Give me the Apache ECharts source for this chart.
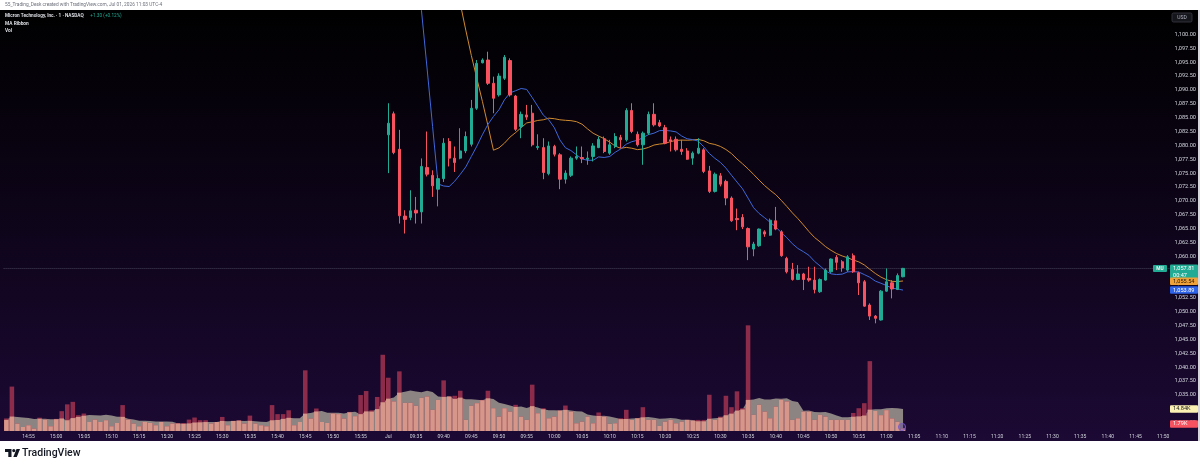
<!DOCTYPE html>
<html>
<head>
<meta charset="utf-8">
<title>MU 1m</title>
<script src="https://cdn.jsdelivr.net/npm/echarts@6/dist/echarts.min.js"></script>
<style>
  html, body { margin: 0; padding: 0; background: #fff; }
  #chart { width: 1200px; height: 467px; }
</style>
</head>
<body>
<div id="chart"></div>
<script>
// previous session 14:51 - 15:59, volume in K (price of that session sits above the scale)
var prevVolume = [8.5, 30, 5, 2.7, 3.9, 1.6, 9, 7.7, 3.2, 8.2,
  13.4, 18, 19.7, 10.7, 11.8, 6.1, 7.7, 6.1, 7.3, 3.2,
  5.4, 17.5, 7.7, 5, 3.2, 6.1, 5.4, 3.9, 6.1, 3.2,
  5, 5.4, 5.4, 7.7, 9.1, 7.3, 7.3, 5, 6.1, 9.5,
  3.9, 6.8, 7.3, 5, 10.4, 5, 3.9, 3.2, 17.5, 11.4,
  11.4, 14, 3.9, 6.1, 41, 8.4, 15.2, 6.1, 5.4, 11.8,
  11.4, 8.4, 12.9, 10, 24.3, 27, 14, 23, 51.5]
var prevSessionClose = 1178   // where the MAs come down from after the gap
var volBefore = 7.4           // avg volume before the first visible bar

// today 09:30 - 11:03
var opens = [1081.9, 1085.7, 1079.3, 1067.25, 1067.0, 1068.3, 1068.0, 1076.0, 1074.6, 1072.1,
  1074.0, 1080.7, 1077.7, 1077.7, 1079.0, 1080.2, 1086.7, 1094.9, 1095.4, 1091.2,
  1089.1, 1092.1, 1095.3, 1088.9, 1083.4, 1085.5, 1085.8, 1079.6, 1079.6, 1074.9,
  1079.8, 1078.3, 1073.9, 1074.6, 1077.7, 1077.8, 1077.5, 1078.0, 1079.6, 1081.2,
  1078.6, 1079.8, 1081.4, 1081.0, 1086.3, 1082.0, 1080.1, 1082.2, 1085.6, 1084.1,
  1083.2, 1081.0, 1081.1, 1079.3, 1079.0, 1077.7, 1078.6, 1079.2, 1075.4, 1071.7,
  1074.5, 1073.5, 1070.5, 1066.8, 1067.0, 1065.0, 1061.3, 1061.9, 1064.4, 1063.8,
  1066.4, 1064.4, 1059.6, 1057.6, 1055.8, 1056.8, 1056.0, 1055.7, 1053.6, 1055.7,
  1057.2, 1059.8, 1059.0, 1057.5, 1060.1, 1057.0, 1055.4, 1051.2, 1049.2, 1048.5,
  1053.7, 1055.2, 1054.0, 1056.3]
var highs = [1087.6, 1086.1, 1082.8, 1068.3, 1071.9, 1070.7, 1077.65, 1082.5, 1075.5, 1074.6,
  1081.3, 1081.3, 1079.8, 1083.1, 1082.5, 1088.2, 1095.4, 1095.7, 1096.9, 1092.4,
  1093.0, 1096.3, 1095.7, 1089.1, 1086.1, 1087.3, 1087.3, 1082.0, 1081.3, 1080.7,
  1080.1, 1078.6, 1075.5, 1078.0, 1079.8, 1079.8, 1078.9, 1080.4, 1081.6, 1081.6,
  1081.0, 1082.2, 1081.9, 1086.7, 1087.6, 1082.5, 1082.5, 1086.1, 1087.6, 1084.6,
  1083.7, 1081.6, 1081.6, 1081.0, 1079.5, 1078.9, 1081.3, 1079.5, 1076.3, 1075.1,
  1075.0, 1073.8, 1070.8, 1068.6, 1067.6, 1065.2, 1062.6, 1065.0, 1064.7, 1066.8,
  1068.9, 1064.7, 1059.9, 1058.8, 1058.4, 1057.0, 1058.1, 1058.1, 1056.0, 1057.8,
  1059.6, 1060.2, 1059.3, 1060.2, 1060.5, 1057.2, 1055.7, 1051.5, 1049.4, 1053.9,
  1057.8, 1055.7, 1056.9, 1057.9]
var lows = [1075.0, 1078.4, 1065.9, 1064.1, 1066.5, 1065.9, 1065.9, 1074.4, 1070.7, 1069.0,
  1073.4, 1076.2, 1075.2, 1077.5, 1078.6, 1079.8, 1086.4, 1094.8, 1090.9, 1085.8,
  1088.8, 1091.8, 1088.8, 1082.6, 1081.3, 1084.6, 1079.8, 1079.2, 1073.9, 1074.6,
  1078.0, 1072.1, 1073.1, 1074.3, 1077.4, 1076.8, 1076.5, 1077.1, 1079.5, 1078.6,
  1078.3, 1079.5, 1079.5, 1080.7, 1082.2, 1079.8, 1076.5, 1081.9, 1083.4, 1083.3,
  1080.2, 1078.9, 1078.9, 1078.3, 1077.4, 1076.5, 1078.4, 1075.0, 1071.4, 1071.5,
  1072.6, 1069.2, 1066.2, 1064.7, 1064.9, 1059.3, 1060.0, 1061.7, 1063.5, 1063.7,
  1064.7, 1059.9, 1056.9, 1055.6, 1055.7, 1053.9, 1055.4, 1053.3, 1053.4, 1055.6,
  1057.0, 1057.5, 1057.2, 1057.2, 1057.0, 1053.0, 1050.9, 1048.5, 1047.9, 1048.4,
  1053.6, 1052.4, 1053.9, 1056.2]
var closes = [1084.0, 1078.7, 1067.3, 1066.65, 1068.2, 1067.8, 1076.2, 1074.8, 1072.7, 1074.0,
  1080.4, 1077.7, 1076.9, 1079.0, 1081.6, 1086.7, 1094.8, 1095.4, 1091.2, 1088.5,
  1092.5, 1095.9, 1089.1, 1082.9, 1085.6, 1085.1, 1080.1, 1079.8, 1075.1, 1079.9,
  1078.4, 1073.9, 1075.0, 1077.7, 1078.0, 1077.6, 1077.7, 1079.9, 1081.1, 1078.9,
  1080.1, 1081.6, 1081.0, 1086.3, 1082.5, 1080.1, 1082.2, 1085.6, 1083.7, 1083.5,
  1080.4, 1080.8, 1079.2, 1078.9, 1077.5, 1078.6, 1079.5, 1075.3, 1071.7, 1074.8,
  1073.0, 1070.5, 1066.4, 1066.6, 1065.3, 1061.7, 1062.2, 1064.9, 1064.0, 1066.5,
  1064.9, 1060.1, 1057.2, 1055.8, 1056.8, 1055.8, 1055.7, 1054.0, 1055.8, 1057.5,
  1059.5, 1058.9, 1057.9, 1059.9, 1057.2, 1055.2, 1051.0, 1049.2, 1048.8, 1053.7,
  1055.4, 1054.1, 1056.51, 1057.81]
var volumes = [36, 20, 40.3, 19, 19, 17, 22.4, 23.3, 14.3, 21,
  34.2, 23.3, 23.8, 27.2, 7.5, 17, 18.8, 21, 27.2, 15.4,
  9.7, 15.4, 13.1, 17.7, 9.7, 7.5, 31.3, 12, 15.4, 8.6,
  9.7, 13.8, 17.2, 13.1, 5.2, 6.3, 9.7, 5.2, 12.5, 9.7,
  4.8, 5.2, 8.6, 14.3, 7.5, 8.6, 16.1, 7.5, 7.5, 3.4,
  6.3, 7.5, 5.2, 6.3, 7.5, 7, 7.5, 7.5, 24.5, 7.5,
  9.7, 23.8, 16.1, 26.8, 15.4, 71.4, 10.9, 17.7, 13.1, 8.6,
  16.5, 21.1, 20, 7.5, 8.6, 13.1, 13.1, 7.5, 10.9, 9.7,
  7.5, 7.5, 7.5, 7.5, 12.2, 15.4, 18.8, 47.2, 13.5, 10.7,
  14.1, 8.5, 6.2, 1.79]

var UP = '#22ab94'
var DOWN = '#f7525f'

function pad(n) { return (n < 10 ? '0' : '') + n }
function minutes(from, to) {
  var out = []
  for (var m = from; m <= to; m++) out.push(pad(Math.floor(m / 60)) + ':' + pad(m % 60))
  return out
}
var prevTimes = minutes(14 * 60 + 51, 15 * 60 + 59)
var todayTimes = minutes(9 * 60 + 30, 11 * 60 + 51)
var times = prevTimes.concat(todayTimes)

var nPrev = prevTimes.length
var nBars = nPrev + closes.length

// simple moving average, bars before the window use the given seed
function sma(vals, n, seed) {
  return vals.map(function (v, i) {
    var s = 0
    for (var k = i - n + 1; k <= i; k++) s += k < 0 ? seed : vals[k]
    return s / n
  })
}

var allCloses = prevTimes.map(function () { return prevSessionClose }).concat(closes)
var ma10 = sma(allCloses, 10, prevSessionClose)
var ma20 = sma(allCloses, 20, prevSessionClose)
var allVol = prevVolume.concat(volumes)
var volMa = sma(allVol, 10, volBefore)
var volLow = allVol.map(function (v, i) { return Math.min(v, volMa[i]) })

var candleData = times.map(function (t, i) {
  var j = i - nPrev
  if (j < 0 || j >= closes.length) return '-'
  return [opens[j], closes[j], lows[j], highs[j]]
})

var lastClose = closes[closes.length - 1]
var lastVol = volumes[volumes.length - 1]

function money(v) {
  return v.toLocaleString('en-US', { minimumFractionDigits: 2, maximumFractionDigits: 2 })
}

var FONT = 'Roboto, "Noto Sans", sans-serif'

var staticGraphic = [
  { type: 'rect', z: -10, silent: true, shape: { x: 0, y: 10, width: 1198, height: 431 },
    style: { fill: { type: 'linear', x: 0, y: 0, x2: 0, y2: 1,
      colorStops: [{ offset: 0, color: '#000000' }, { offset: 1, color: '#1c0934' }] } } },
  { type: 'rect', z: 50, silent: true, shape: { x: 0, y: 0, width: 1200, height: 10 }, style: { fill: '#ffffff' } },
  { type: 'rect', z: 50, silent: true, shape: { x: 0, y: 441, width: 1200, height: 26 }, style: { fill: '#ffffff' } },
  { type: 'rect', z: 50, silent: true, shape: { x: 1198, y: 10, width: 2, height: 431 }, style: { fill: '#d6d6dc' } },
  { type: 'rect', z: 40, silent: true, shape: { x: 1170.5, y: 431, width: 27.5, height: 10 }, style: { fill: '#1b0933' } },
  { type: 'text', z: 51, x: 5, y: 5, style: { text: '55_Trading_Desk created with TradingView.com, Jul 01, 2026 11:03 UTC-4',
    fill: '#6b6f7a', font: '4.8px ' + FONT, verticalAlign: 'middle' } },
  { type: 'text', z: 51, x: 5, y: 16, style: {
    text: '{n|Micron Technology, Inc. · 1 · NASDAQ}  {g|+1.30 (+0.12%)}',
    verticalAlign: 'middle',
    rich: {
      n: { fill: '#e6e8ee', fontSize: 4.7, fontWeight: 600, fontFamily: FONT },
      g: { fill: UP, fontSize: 4.7, fontFamily: FONT }
    } } },
  { type: 'text', z: 51, x: 5, y: 23.5, style: { text: 'MA Ribbon', fill: '#e6e8ee', font: '600 4.8px ' + FONT, verticalAlign: 'middle' } },
  { type: 'text', z: 51, x: 5, y: 30.5, style: { text: 'Vol', fill: '#e6e8ee', font: '600 4.8px ' + FONT, verticalAlign: 'middle' } },
  { type: 'rect', z: 51, shape: { x: 1172, y: 13, width: 20, height: 9, r: 1.5 }, style: { fill: '#15151c', stroke: '#3b3b46', lineWidth: 0.8 } },
  { type: 'text', z: 52, x: 1182, y: 17.5, style: { text: 'USD', fill: '#b2b5be', font: '5px ' + FONT, align: 'center', verticalAlign: 'middle' } },
  { type: 'circle', z: 30, shape: { cx: 902, cy: 427, r: 3.6 }, style: { fill: 'rgba(90,60,170,0.35)', stroke: '#7a5cc8', lineWidth: 0.9 } },
  // TradingView logo
  { type: 'polygon', z: 51, shape: { points: [[5, 449], [11.5, 449], [11.5, 457], [8.3, 457], [8.3, 452], [5, 452]] }, style: { fill: '#131722' } },
  { type: 'circle', z: 51, shape: { cx: 13.8, cy: 450.6, r: 1.6 }, style: { fill: '#131722' } },
  { type: 'polygon', z: 51, shape: { points: [[16.5, 449], [20, 449], [16.8, 457], [13.3, 457]] }, style: { fill: '#131722' } },
  { type: 'text', z: 51, x: 22, y: 453.5, style: { text: 'TradingView', fill: '#131722', font: '500 10.5px ' + FONT, verticalAlign: 'middle' } }
]

var chart = echarts.init(document.getElementById('chart'), null, { renderer: 'canvas' })

chart.setOption({
  backgroundColor: '#ffffff',
  animation: false,
  graphic: staticGraphic,
  grid: [
    { left: 3.6, right: 28.5, top: 6.8, height: 429.6, containLabel: false, outerBoundsMode: 'none' },
    { left: 3.6, right: 28.5, top: 283, height: 148, containLabel: false, outerBoundsMode: 'none' }
  ],
  xAxis: [
    { type: 'category', gridIndex: 0, data: times, show: false },
    { type: 'category', gridIndex: 1, data: times,
      axisLine: { show: false }, axisTick: { show: false }, splitLine: { show: false },
      axisLabel: {
        color: '#d1d4dc', fontSize: 5, fontFamily: FONT, margin: 3,
        interval: function (idx, value) { return +value.slice(3) % 5 === 0 },
        formatter: function (v) { return v === '09:30' ? 'Jul' : v }
      } }
  ],
  yAxis: [
    { type: 'value', gridIndex: 0, position: 'right', min: 1027.5, max: 1105, interval: 2.5,
      axisLine: { show: false }, axisTick: { show: false }, splitLine: { show: false },
      axisLabel: {
        color: '#d1d4dc', fontSize: 5.6, fontFamily: FONT, margin: 3,
        formatter: function (v) { return (v > 1101 || v < 1029) ? '' : money(v) }
      } },
    { type: 'value', gridIndex: 1, min: 0, max: 100, show: false }
  ],
  series: [
    {
      name: 'Vol MA', type: 'line', xAxisIndex: 1, yAxisIndex: 1, data: volMa,
      symbol: 'none', lineStyle: { width: 0 }, areaStyle: { color: '#8b8482', opacity: 1 }, z: 1
    },
    {
      name: 'Vol', type: 'bar', xAxisIndex: 1, yAxisIndex: 1, data: allVol,
      barWidth: '82%', itemStyle: { color: '#8d2c4a' }, z: 2
    },
    {
      name: 'Vol under MA', type: 'bar', xAxisIndex: 1, yAxisIndex: 1, data: volLow,
      barWidth: '82%', barGap: '-100%', itemStyle: { color: '#d6978a' }, z: 3
    },
    {
      name: 'MA 20', type: 'line', xAxisIndex: 0, yAxisIndex: 0, data: ma20,
      symbol: 'none', lineStyle: { color: '#cf8a2f', width: 1 }, z: 4
    },
    {
      name: 'MA 10', type: 'line', xAxisIndex: 0, yAxisIndex: 0, data: ma10,
      symbol: 'none', lineStyle: { color: '#3f68d8', width: 1 }, z: 4
    },
    {
      name: 'MU', type: 'candlestick', xAxisIndex: 0, yAxisIndex: 0, data: candleData,
      barWidth: 2.8, z: 5,
      itemStyle: { color: UP, color0: DOWN, borderColor: UP, borderColor0: DOWN, borderWidth: 1 },
      markLine: {
        silent: true, symbol: ['none', 'none'], label: { show: false },
        lineStyle: { color: 'rgba(130,140,160,0.45)', type: 'dotted', width: 1 },
        data: [{ yAxis: lastClose }]
      }
    }
  ]
})

// price scale / volume tags
var yLast = chart.convertToPixel({ yAxisIndex: 0 }, lastClose)
var yOrange = chart.convertToPixel({ yAxisIndex: 0 }, ma20[nBars - 1])
var yBlue = chart.convertToPixel({ yAxisIndex: 0 }, ma10[nBars - 1])
var yVolMa = chart.convertToPixel({ yAxisIndex: 1 }, volMa[nBars - 1])
var yVol = Math.min(chart.convertToPixel({ yAxisIndex: 1 }, lastVol), yVolMa + 15)
yOrange = Math.max(yOrange, yLast + 13)
yBlue = Math.max(yBlue, yOrange + 8)

function tag(y, h, fill, lines, color) {
  var els = [{ type: 'rect', z: 60, shape: { x: 1170, y: y - 3.8, width: 28, height: h, r: 1 }, style: { fill: fill } }]
  lines.forEach(function (t, k) {
    els.push({ type: 'text', z: 61, x: 1173, y: y + k * 7, style: { text: t, fill: color, font: '5.6px ' + FONT, verticalAlign: 'middle' } })
  })
  return els
}

var tags = [].concat(
  [{ type: 'rect', z: 60, shape: { x: 1153, y: yLast - 3.5, width: 14, height: 7, r: 1 }, style: { fill: UP } },
   { type: 'text', z: 61, x: 1160, y: yLast, style: { text: 'MU', fill: '#ffffff', font: '600 4.8px ' + FONT, align: 'center', verticalAlign: 'middle' } }],
  tag(yLast, 14.5, UP, [money(lastClose), '00:47'], '#ffffff'),
  tag(yOrange, 7.5, '#f0a23a', [money(ma20[nBars - 1])], '#2b1700'),
  tag(yBlue, 7.5, '#2f63e8', [money(ma10[nBars - 1])], '#ffffff'),
  tag(yVolMa, 7.5, '#fbf1b2', [volMa[nBars - 1].toFixed(2) + 'K'], '#1a1a1a'),
  tag(yVol, 7.5, DOWN, [lastVol.toFixed(2) + 'K'], '#ffffff')
)

chart.setOption({ graphic: staticGraphic.concat(tags) })
</script>
</body>
</html>
